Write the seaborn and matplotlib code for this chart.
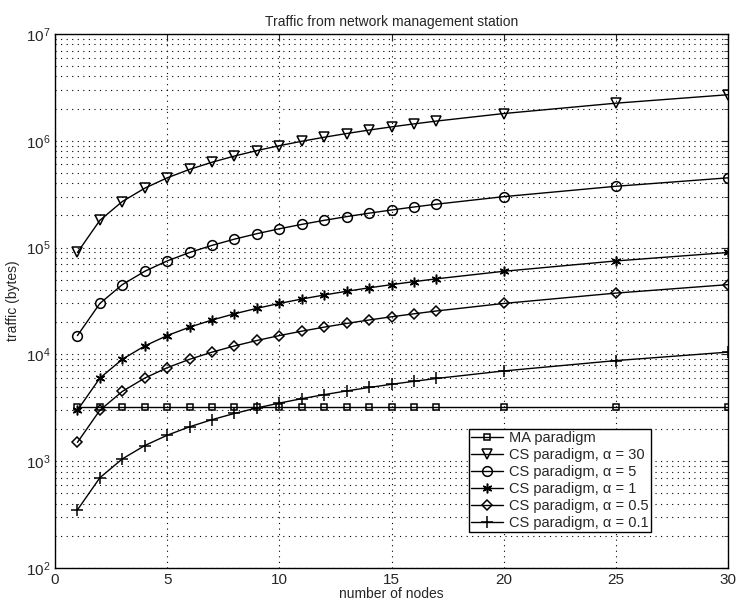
import matplotlib
matplotlib.use("Agg")
import matplotlib.pyplot as plt
import seaborn as sns
import pandas as pd
from matplotlib.ticker import LogLocator, MultipleLocator, NullFormatter

nodes = [1, 2, 3, 4, 5, 6, 7, 8, 9, 10, 11, 12, 13, 14, 15, 16, 17, 20, 25, 30]
ma_paradigm = [3200] * 20
cs_a30 = [90000, 180000, 270000, 360000, 450000, 540000, 630000, 720000, 810000, 900000,
          990000, 1080000, 1170000, 1260000, 1350000, 1440000, 1530000, 1800000, 2250000, 2700000]
cs_a5 = [15000, 30000, 45000, 60000, 75000, 90000, 105000, 120000, 135000, 150000,
         165000, 180000, 195000, 210000, 225000, 240000, 255000, 300000, 375000, 450000]
cs_a1 = [3000, 6000, 9000, 12000, 15000, 18000, 21000, 24000, 27000, 30000,
         33000, 36000, 39000, 42000, 45000, 48000, 51000, 60000, 75000, 90000]
cs_a05 = [1500, 3000, 4500, 6000, 7500, 9000, 10500, 12000, 13500, 15000,
          16500, 18000, 19500, 21000, 22500, 24000, 25500, 30000, 37500, 45000]
cs_a01 = [350, 700, 1050, 1400, 1750, 2100, 2450, 2800, 3150, 3500,
          3850, 4200, 4550, 4900, 5250, 5600, 5950, 7000, 8750, 10500]

labels = ["MA paradigm", "CS paradigm, α = 30", "CS paradigm, α = 5",
          "CS paradigm, α = 1", "CS paradigm, α = 0.5", "CS paradigm, α = 0.1"]
series = [ma_paradigm, cs_a30, cs_a5, cs_a1, cs_a05, cs_a01]
markers = ["s", "v", "o", (6, 2, 0), "D", "+"]
msizes = [5, 7, 7, 7, 5, 8]

sns.set_style("white")
plt.rcParams['font.family'] = ['Liberation Sans', 'DejaVu Sans']
plt.rcParams['mathtext.fontset'] = 'custom'
plt.rcParams['mathtext.rm'] = 'Liberation Sans'

fig = plt.figure(figsize=(7.37, 6.07), dpi=100)
ax = fig.add_axes([55/737, 1 - 568/607, 673/737, 534/607])

for lab, ys, m, ms in zip(labels, series, markers, msizes):
    df = pd.DataFrame({"nodes": nodes, "traffic": ys})
    sns.lineplot(data=df, x="nodes", y="traffic", ax=ax, color="black", lw=1.0,
                 marker=m, markersize=ms, markerfacecolor="none",
                 markeredgecolor="black", markeredgewidth=1.1, label=lab)

ax.set_yscale("log")
ax.set_xlim(0, 30)
ax.set_ylim(1e2, 1e7)
ax.xaxis.set_major_locator(MultipleLocator(5))
ax.yaxis.set_major_locator(LogLocator(base=10, numticks=10))
ax.yaxis.set_minor_locator(LogLocator(base=10, subs=range(2, 10), numticks=20))
ax.yaxis.set_minor_formatter(NullFormatter())
dot = (0, (1, 4))
ax.grid(True, which="major", axis="both", ls=dot, color="black", lw=0.8)
ax.grid(True, which="minor", axis="y", ls=dot, color="black", lw=0.8)
ax.tick_params(which="both", direction="in", top=True, right=True, labelsize=11)
ax.tick_params(which="major", length=5)
ax.tick_params(which="minor", length=3)
for s in ax.spines.values():
    s.set_color("black")
    s.set_linewidth(1.0)

ax.set_title("Traffic from network management station", fontsize=10)
ax.set_xlabel("number of nodes", fontsize=10, labelpad=0)
ax.set_ylabel("traffic (bytes)", fontsize=10)

leg = ax.legend(loc="lower left", bbox_to_anchor=(0.615, 0.067), fontsize=10.5,
                frameon=True, fancybox=False, edgecolor="black", framealpha=1,
                borderpad=0.15, labelspacing=0.2, handlelength=2.2, handletextpad=0.4,
                borderaxespad=0)
leg.get_frame().set_linewidth(1.0)

fig.savefig("out.png", dpi=100)
